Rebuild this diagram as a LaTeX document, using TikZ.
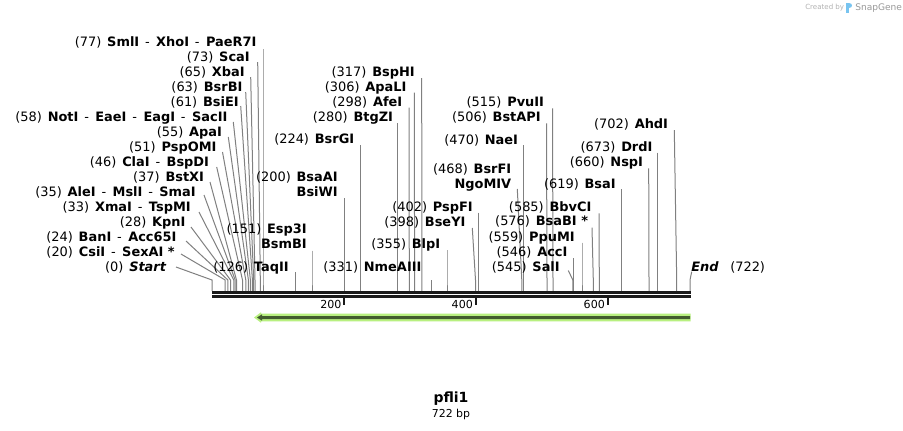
\documentclass[tikz,border=0pt]{standalone}
\usepackage{fontspec}
\setmainfont{DejaVu Sans}
\definecolor{leadgray}{RGB}{128,128,128}
\definecolor{mapblk}{RGB}{26,26,26}
\definecolor{halo}{RGB}{184,240,128}
\definecolor{featdark}{RGB}{66,92,46}
\definecolor{logoblue}{RGB}{120,196,240}
\newcommand\lblfont{\fontsize{9.7}{11}\selectfont}
\newcommand\tickfont{\fontsize{8.3}{10}\selectfont}
\newcommand\Bz[1]{\textbf{#1}}
\newcommand\Np[1]{(#1)\hspace{0.45em}}
\newcommand\Ds{\hspace{0.45em}-\hspace{0.5em}}
\tikzset{
  lbl/.style={anchor=base east, inner sep=0pt, font=\lblfont},
  lblw/.style={anchor=base west, inner sep=0pt, font=\lblfont},
  leader/.style={draw=leadgray, line width=0.75pt},
}
% id, label end x, label centre y, text, top x, top y, site x
\newcommand\enz[7]{%
  \node[lbl] (L#1) at (#2,#3+4.3) {#4};
  \coordinate (T#1) at (#5,#6);
  \coordinate (B#1) at (#7,280);
  \coordinate (S#1) at (#7,291);
  \draw[leader] (T#1) -- (B#1) -- (S#1);
}
\begin{document}
\begin{tikzpicture}[x=0.75pt,y=-0.75pt]
\fill[white] (0,0) rectangle (903,430);
\useasboundingbox (0,0) rectangle (903,430);

% left group
\enz{77}{256.7}{42}{\Np{77}\Bz{SmlI}\Ds\Bz{XhoI}\Ds\Bz{PaeR7I}}{263}{49}{263}
\enz{73}{250}{57}{\Np{73}\Bz{ScaI}}{257.7}{62}{260.3}
\enz{65}{245}{72}{\Np{65}\Bz{XbaI}}{250.7}{77}{255}
\enz{63}{242.7}{87}{\Np{63}\Bz{BsrBI}}{245.7}{92}{253.7}
\enz{61}{239}{102}{\Np{61}\Bz{BsiEI}}{240.7}{106}{252.4}
\enz{58}{227.7}{117}{\Np{58}\Bz{NotI}\Ds\Bz{EaeI}\Ds\Bz{EagI}\Ds\Bz{SacII}}{233.3}{122}{250.4}
\enz{55}{222.3}{132}{\Np{55}\Bz{ApaI}}{228.3}{137}{248.4}
\enz{51}{216.7}{147}{\Np{51}\Bz{PspOMI}}{222.5}{152}{245.8}
\enz{46}{209.3}{162}{\Np{46}\Bz{ClaI}\Ds\Bz{BspDI}}{216.7}{167}{242.5}
\enz{37}{204.3}{177}{\Np{37}\Bz{BstXI}}{210}{182}{236.5}
\enz{35}{196}{192}{\Np{35}\Bz{AleI}\Ds\Bz{MslI}\Ds\Bz{SmaI}}{204}{195}{235.2}
\enz{33}{191}{207}{\Np{33}\Bz{XmaI}\Ds\Bz{TspMI}}{199}{212}{233.8}
\enz{28}{185.7}{222}{\Np{28}\Bz{KpnI}}{191}{227}{230.5}
\enz{24}{176.7}{237}{\Np{24}\Bz{BanI}\Ds\Bz{Acc65I}}{186}{241}{227.9}
\enz{20}{175}{252}{\Np{20}\Bz{CsiI}\Ds\Bz{SexAI *}}{181}{254}{225.2}
\enz{0}{166.7}{267}{\Np{0}\textbf{\itshape Start}}{176}{267}{212}

% middle and right groups
\enz{126}{289}{267}{\Np{126}\Bz{TaqII}}{295.4}{272}{295.4}
\enz{151}{307}{229}{\Np{151}\Bz{Esp3I}}{312}{250.7}{312}
\node[lbl] (L151b) at (307,248.3) {\Bz{BsmBI}};
\enz{200}{338}{177}{\Np{200}\Bz{BsaAI}}{344.4}{198}{344.4}
\node[lbl] (L200b) at (338,196.3) {\Bz{BsiWI}};
\enz{224}{354.5}{139}{\Np{224}\Bz{BsrGI}}{360.3}{145}{360.3}
\enz{280}{393.3}{117}{\Np{280}\Bz{BtgZI}}{397.4}{123}{397.4}
\enz{298}{402.5}{102}{\Np{298}\Bz{AfeI}}{409}{107.7}{409.3}
\enz{306}{406.7}{87}{\Np{306}\Bz{ApaLI}}{414.3}{92.7}{414.6}
\enz{317}{415}{72}{\Np{317}\Bz{BspHI}}{421.7}{78}{421.9}
\enz{331}{421.7}{267}{\Np{331}\Bz{NmeAIII}}{431.1}{280}{431.1}
\enz{355}{440.5}{244}{\Np{355}\Bz{BlpI}}{447}{250}{447}
\enz{398}{465.7}{222}{\Np{398}\Bz{BseYI}}{472.3}{228}{475.5}
\enz{402}{473}{207}{\Np{402}\Bz{PspFI}}{478.1}{212.7}{478.1}
\enz{468}{511.5}{169}{\Np{468}\Bz{BsrFI}}{517.3}{189}{521.8}
\node[lbl] (L468b) at (511.5,188.3) {\Bz{NgoMIV}};
\enz{470}{518.3}{140}{\Np{470}\Bz{NaeI}}{523.2}{145}{523.2}
\enz{506}{541}{117}{\Np{506}\Bz{BstAPI}}{546.5}{123.3}{547}
\enz{515}{544.3}{102}{\Np{515}\Bz{PvuII}}{552.5}{108.3}{553}
\enz{545}{560}{267}{\Np{545}\Bz{SalI}}{568.3}{270.5}{572.8}
\enz{546}{567.7}{252}{\Np{546}\Bz{AccI}}{573.5}{258}{573.5}
\enz{559}{575}{237}{\Np{559}\Bz{PpuMI}}{582}{242.7}{582}
\enz{576}{588.3}{221}{\Np{576}\Bz{BsaBI *}}{592}{227.7}{593.3}
\enz{585}{591.7}{207}{\Np{585}\Bz{BbvCI}}{599}{213.3}{599.3}
\enz{619}{616}{184}{\Np{619}\Bz{BsaI}}{621.8}{189.3}{621.8}
\enz{660}{643.3}{162}{\Np{660}\Bz{NspI}}{648.7}{168.3}{649}
\enz{673}{652.7}{147}{\Np{673}\Bz{DrdI}}{657.5}{152.7}{657.5}
\enz{702}{668.3}{124}{\Np{702}\Bz{AhdI}}{674.3}{130}{676.7}

% End
\node[lblw] (LEnd) at (691,271.3) {\textbf{\itshape End}};
\node[lblw] (LEndn) at (730,271.3) {(722)};
\coordinate (TEnd) at (691.7,271.7);
\coordinate (BEnd) at (690,280);
\coordinate (SEnd) at (690,291);
\draw[leader] (TEnd) -- (BEnd) -- (SEnd);

% map bars
\fill[mapblk] (212,291) rectangle (690.7,294);
\fill[mapblk] (212,295) rectangle (690.7,297.7);
% ticks
\foreach \tx/\tl in {344.3/200,475.7/400,607.7/600}{
  \fill[mapblk] (\tx-1,297) rectangle (\tx+1,305);
  \node[anchor=base east, inner sep=0pt, font=\tickfont] at (\tx-2.6,308) {\tl};
}

% feature arrow
\fill[halo] (254,317.5) -- (261,312.3) -- (261,313.6) -- (690.7,313.6) -- (690.7,321.4) -- (261,321.4) -- (261,322.7) -- cycle;
\fill[featdark] (257,317.5) -- (262,314.3) -- (262,316) -- (690,316) -- (690,319) -- (262,319) -- (262,320.7) -- cycle;

% title
\node[font=\bfseries\fontsize{10.5}{13}\selectfont, inner sep=0pt] (title) at (451,399) {pfli1};
\node[font=\fontsize{8.2}{10}\selectfont, inner sep=0pt] (size) at (451,414) {722 bp};

% logo
\node[anchor=base west, inner sep=0pt, font=\fontsize{5.3}{6}\selectfont, text=gray!60] (cb) at (805,9.5) {Created by};
\fill[logoblue] (846,2.5) rectangle (849,12.5);
\fill[logoblue] (849,2.5) .. controls (853,2.5) and (853,7.5) .. (849,7.5) -- cycle;
\node[anchor=base west, inner sep=0pt, font=\fontsize{6.8}{8}\selectfont, text=gray!80] (sg) at (855,10) {SnapGene};
\end{tikzpicture}
\end{document}
